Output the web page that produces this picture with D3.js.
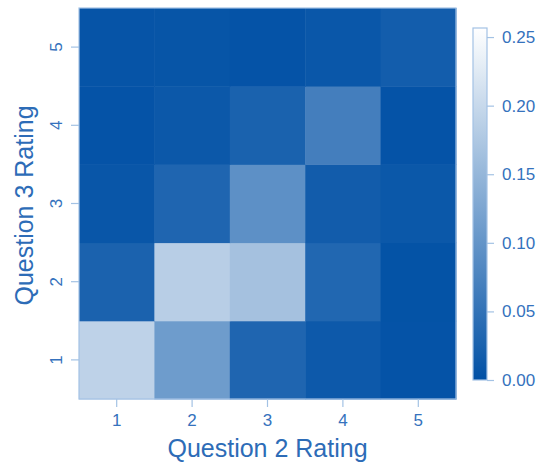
<!DOCTYPE html>
<html>
<head>
<meta charset="utf-8">
<script src="https://cdn.jsdelivr.net/npm/d3@7"></script>
<style>
  html, body { margin: 0; padding: 0; background: #fff; }
  svg { display: block; font-family: "Liberation Sans", Arial, sans-serif; }
</style>
</head>
<body>
<svg id="chart" width="542" height="465"></svg>
<script>
const xCategories = ["1", "2", "3", "4", "5"];
const yCategories = ["1", "2", "3", "4", "5"];
// proportions, rows = Question 3 rating (1..5), columns = Question 2 rating (1..5)
const row1 = [0.191, 0.111, 0.031, 0.013, 0.005];
const row2 = [0.027, 0.185, 0.166, 0.033, 0.004];
const row3 = [0.009, 0.031, 0.094, 0.018, 0.011];
const row4 = [0.005, 0.012, 0.026, 0.068, 0.005];
const row5 = [0.006, 0.007, 0.005, 0.010, 0.019];
const colorTicks = [0.00, 0.05, 0.10, 0.15, 0.20, 0.25];
const colorDomain = [0, 0.2566];

const rows = [row1, row2, row3, row4, row5];
const cells = [];
rows.forEach((r, i) => r.forEach((v, j) => cells.push({x: xCategories[j], y: yCategories[i], v})));

const svg = d3.select("#chart");
const plot = {left: 79, right: 456, top: 8, bottom: 399};
const textColor = "#3572bd";
const titleColor = "#2d6cb7";
const lineColor = "#a3c2e4";
const FONT = "Liberation Sans, Arial, sans-serif";

const x = d3.scaleBand().domain(xCategories).range([plot.left, plot.right]).padding(0);
const y = d3.scaleBand().domain(yCategories).range([plot.bottom, plot.top]).padding(0);
const color = d3.scaleLinear().domain([0, 0.2566]).range(["#0050a5", "#ffffff"]).clamp(true);

svg.append("g").selectAll("rect").data(cells).join("rect")
  .attr("x", d => x(d.x)).attr("y", d => y(d.y))
  .attr("width", x.bandwidth() + 0.5).attr("height", y.bandwidth() + 0.5)
  .attr("fill", d => color(d.v));

svg.append("rect")
  .attr("x", plot.left).attr("y", plot.top)
  .attr("width", plot.right - plot.left).attr("height", plot.bottom - plot.top)
  .attr("fill", "none").attr("stroke", lineColor).attr("stroke-width", 1.2);

// x axis
const xAxis = svg.append("g").attr("transform", `translate(0,${plot.bottom})`)
  .call(d3.axisBottom(x).tickSize(8).tickPadding(7));
xAxis.select(".domain").remove();
xAxis.selectAll("line").attr("stroke", lineColor).attr("stroke-width", 1.2);
xAxis.selectAll("text").attr("fill", textColor).attr("font-size", 17).attr("font-family", FONT);

// y axis
const yAxis = svg.append("g").attr("transform", `translate(${plot.left},0)`)
  .call(d3.axisLeft(y).tickSize(8).tickPadding(0));
yAxis.select(".domain").remove();
yAxis.selectAll("line").attr("stroke", lineColor).attr("stroke-width", 1.2);
yAxis.selectAll("text")
  .attr("fill", textColor).attr("font-size", 17).attr("font-family", FONT)
  .attr("x", null)
  .attr("text-anchor", "middle")
  .attr("transform", "translate(-23,0) rotate(-90)")
  .attr("dy", "0.35em");

// axis titles
svg.append("text").attr("x", (plot.left + plot.right) / 2).attr("y", 457)
  .attr("text-anchor", "middle").attr("font-size", 25).attr("fill", titleColor)
  .attr("font-family", FONT)
  .text("Question 2 Rating");
svg.append("text")
  .attr("transform", `translate(33,${(plot.top + plot.bottom) / 2 + 2}) rotate(-90)`)
  .attr("text-anchor", "middle").attr("font-size", 25).attr("fill", titleColor)
  .attr("font-family", FONT)
  .text("Question 3 Rating");

// colorbar
const cb = {x: 473, w: 14, top: 28, bottom: 380};
const cy = d3.scaleLinear().domain(colorDomain).range([cb.bottom, cb.top]);
const defs = svg.append("defs");
const grad = defs.append("linearGradient").attr("id", "cbgrad")
  .attr("x1", 0).attr("y1", 1).attr("x2", 0).attr("y2", 0);
d3.range(0, 1.0001, 0.1).forEach(t => {
  const v = colorDomain[0] + t * (colorDomain[1] - colorDomain[0]);
  grad.append("stop").attr("offset", t).attr("stop-color", color(v));
});
svg.append("rect").attr("x", cb.x).attr("y", cb.top).attr("width", cb.w)
  .attr("height", cb.bottom - cb.top).attr("fill", "url(#cbgrad)")
  .attr("stroke", lineColor).attr("stroke-width", 1.2);
const cAxis = svg.append("g").attr("transform", `translate(${cb.x + cb.w},0)`)
  .call(d3.axisRight(cy).tickValues(colorTicks).tickFormat(d3.format(".2f")).tickSize(7).tickPadding(8));
cAxis.select(".domain").remove();
cAxis.selectAll("line").attr("stroke", lineColor).attr("stroke-width", 1.2);
cAxis.selectAll("text").attr("fill", textColor).attr("font-size", 17).attr("font-family", FONT);
</script>
</body>
</html>
